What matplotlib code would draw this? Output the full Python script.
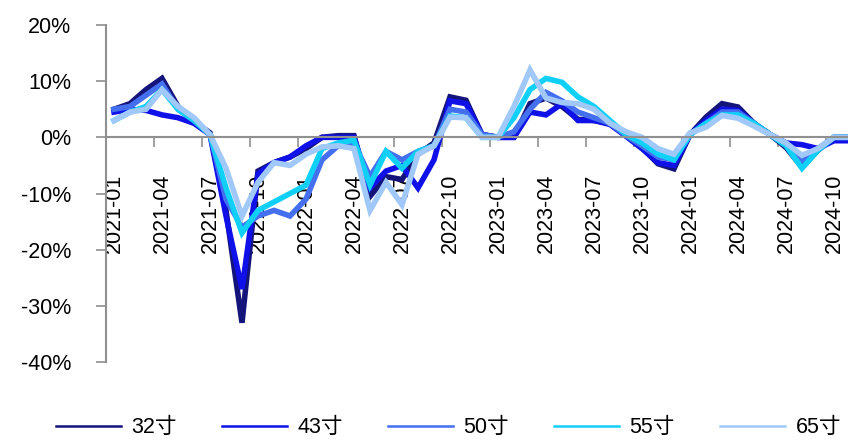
import numpy as np
import matplotlib
matplotlib.use("Agg")
import matplotlib.pyplot as plt
from matplotlib.lines import Line2D
import matplotlib.ticker as ticker

plt.rcParams['font.family'] = ['Liberation Sans', 'Noto Sans CJK SC', 'DejaVu Sans']

# months 2021-01 .. 2024-12
months = ["%d-%02d" % (y, m) for y in range(2021, 2025) for m in range(1, 13)]

s32 = [5.0, 6.0, 8.5, 10.5, 5.5, 2.8, 0.8, -13.0, -33.0, -6.0, -4.5, -3.5,
       -2.0, 0.0, 0.3, 0.3, -10.5, -7.0, -7.5, -3.0, -1.0, 7.2, 6.6, 0.5,
       0.0, 0.0, 6.0, 7.0, 5.5, 3.2, 3.0, 2.5, 0.3, -1.8, -4.7, -5.6,
       0.5, 3.6, 6.0, 5.4, 2.5, 0.5, -1.8, -5.3, -2.3, 0.0, 0.0, 0.0]
s43 = [4.5, 5.0, 4.8, 4.0, 3.5, 2.5, 0.5, -14.0, -27.0, -6.5, -4.5, -3.5,
       -1.5, 0.0, 0.0, 0.0, -9.0, -6.0, -5.0, -9.0, -4.0, 6.5, 6.0, 0.5,
       0.0, 0.0, 4.5, 4.0, 6.0, 3.0, 3.0, 2.3, 0.2, -2.0, -4.5, -5.0,
       0.5, 3.0, 5.0, 4.8, 2.5, 0.5, -1.0, -1.3, -2.0, -0.6, -0.6, -0.6]
s50 = [5.0, 5.5, 7.5, 9.5, 5.0, 3.0, 0.5, -11.0, -16.0, -14.0, -13.0, -14.0,
       -11.0, -4.0, -1.5, -1.0, -7.0, -2.5, -4.0, -2.5, -1.5, 5.0, 4.5, 0.5,
       0.0, 1.0, 5.0, 8.0, 6.5, 4.5, 3.5, 2.5, 0.3, -1.5, -3.5, -4.0,
       0.5, 2.5, 4.5, 4.5, 2.5, 0.5, -1.0, -4.0, -2.0, 0.0, 0.0, 0.0]
s55 = [3.0, 4.5, 5.5, 8.5, 5.0, 3.0, 0.5, -9.0, -17.0, -13.0, -11.5, -10.0,
       -8.5, -2.0, -1.0, -0.5, -8.5, -2.5, -5.5, -2.5, -1.5, 3.8, 3.5, 0.0,
       0.0, 3.5, 8.5, 10.5, 9.8, 7.2, 5.5, 3.0, 0.5, -1.0, -3.0, -4.0,
       0.5, 2.5, 4.0, 4.0, 2.5, 0.5, -1.5, -5.5, -2.3, 0.0, 0.0, 0.0]
s65 = [3.0, 4.5, 5.0, 8.5, 5.5, 3.5, 0.5, -5.5, -14.0, -8.0, -4.5, -5.0,
       -3.0, -1.7, -1.5, -2.0, -13.0, -8.0, -12.0, -3.0, -1.5, 3.6, 3.5, 0.0,
       0.0, 5.5, 12.0, 7.0, 6.2, 6.0, 5.0, 2.5, 1.0, 0.0, -2.0, -3.0,
       0.8, 1.8, 3.9, 3.4, 2.0, 0.5, -1.0, -3.2, -2.0, 0.0, 0.0, 0.0]

names = ["32寸", "43寸", "50寸", "55寸", "65寸"]
colors = ["#14147a", "#1010e8", "#4470f0", "#10d0f8", "#a0c8f8"]
series = [s32, s43, s50, s55, s65]

fig = plt.figure(figsize=(8.48, 4.41), dpi=100)
ax = fig.add_axes([0.125, 0.179, 0.875, 0.7643])

x = np.arange(len(months))
for s, c in zip(series, colors):
    ax.plot(x, s, color=c, lw=4.0, solid_joinstyle='miter')

ax.set_xlim(-0.5, 45.875)
ax.set_ylim(-40, 20)
ax.set_yticks(np.arange(-40, 21, 10))
ax.yaxis.set_major_formatter(ticker.FormatStrFormatter('%d%%'))

# labels on categories, tick marks at the boundaries
ax.set_xticks(x[::3])
ax.set_xticklabels(months[::3])
ax.set_xticks(x[::3] - 0.5, minor=True)
ax.tick_params(axis='x', which='major', length=0, pad=26, labelsize=15.5, labelrotation=90)
ax.tick_params(axis='x', which='minor', length=7, width=1.2, color='#909090', direction='out')
ax.tick_params(axis='y', length=7, width=1.2, color='#909090', pad=18, labelsize=15.5)
for lab in ax.get_xticklabels():
    lab.set_rotation(90)
    lab.set_va('top')
    lab.set_ha('center')

ax.spines['top'].set_visible(False)
ax.spines['right'].set_visible(False)
ax.spines['bottom'].set_position(('data', 0))
for sp in ['left', 'bottom']:
    ax.spines[sp].set_color('#909090')
    ax.spines[sp].set_linewidth(1.5)

handles = [Line2D([0], [0], color=c, lw=1.8) for c in colors]
fig.legend(handles, names, loc='center', bbox_to_anchor=(0.529, 0.03), ncol=5,
           frameon=False, fontsize=15.5, handlelength=3.0, handletextpad=0.5,
           columnspacing=2.1)

plt.savefig("out.png", dpi=100)
